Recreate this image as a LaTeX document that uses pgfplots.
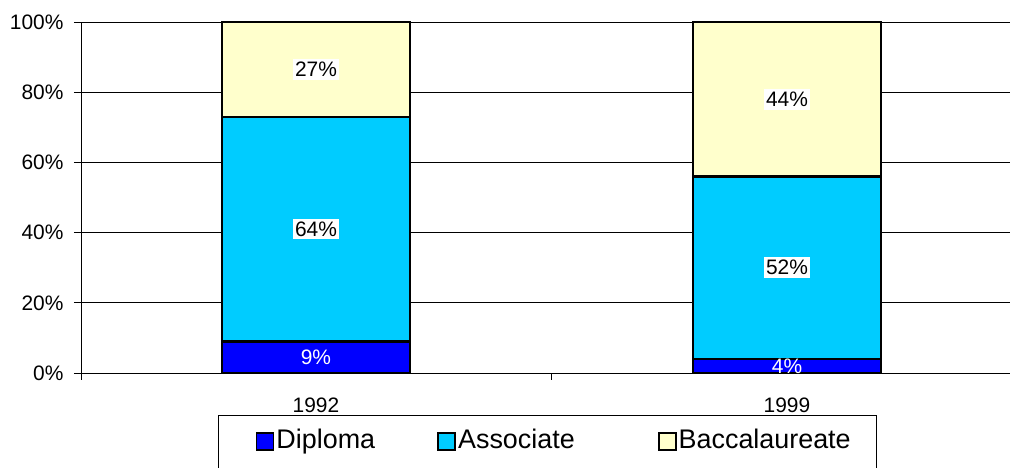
\documentclass[border=0pt]{standalone}
\usepackage{pgfplots}
\pgfplotsset{compat=1.18}
\usepackage{fontspec}
\setmainfont{Liberation Sans}
\definecolor{dip}{HTML}{0000FF}
\definecolor{asc}{HTML}{00CCFF}
\definecolor{bac}{HTML}{FFFFCC}
\pgfplotsset{
  sqlegend/.style={legend image code/.code={\path (0bp,0bp); \draw[##1, draw=black, line width=1.8bp] (13bp,-8.5bp) rectangle (30bp,8.5bp);}},
}
\begin{document}
\begin{tikzpicture}
\useasboundingbox (0bp,0bp) rectangle (1010bp,468bp);
\begin{axis}[
  at={(81bp,95bp)}, anchor=south west,
  scale only axis, width=929bp, height=351bp,
  clip=false,
  ybar stacked, bar width=188bp,
  xmin=-0.4989, xmax=1.4735, ymin=0, ymax=100,
  axis x line*=bottom, axis y line*=left,
  axis line style={black, line width=0.9bp},
  ymajorgrids, major grid style={black, line width=0.9bp},
  ytick={0,20,...,100},
  /pgf/number format/assume math mode=true,
  yticklabel={\pgfmathprintnumber{\tick}\%},
  yticklabel style={font=\fontsize{21}{24}\selectfont, anchor=east, xshift=-7bp},
  tick align=outside, major tick length=7bp,
  ytick style={black, line width=0.9bp},
  xtick={0,1}, xticklabels={1992,1999},
  xtick style={draw=none},
  xticklabel style={font=\fontsize{21}{24}\selectfont, anchor=base, yshift=-32bp},
  visualization depends on=rawy \as \rawy,
  nodes near coords={\pgfmathprintnumber{\rawy}\%},
  every node near coord/.style={anchor=center, font=\fontsize{21}{24}\selectfont},
  legend columns=3,
  legend style={at={(0.1475,-0.1197)}, anchor=north west, draw=black, line width=0.9bp,
    inner xsep=24bp, inner ysep=11bp, font=\fontsize{27}{30}\selectfont,
    nodes={text height=19bp, text depth=5.5bp, inner ysep=3bp},
    /tikz/column 2/.append style={column sep=47bp},
    /tikz/column 4/.append style={column sep=68bp},
    /tikz/every odd column/.append style={column sep=0bp}},
  legend cell align=left,
]
\addplot[fill=dip, draw=black, line width=2.2bp, sqlegend,
  every node near coord/.append style={text=white}] coordinates {(0,9) (1,4)};
\addlegendentry{Diploma}
\addplot[fill=asc, draw=black, line width=2.2bp, sqlegend,
  every node near coord/.append style={fill=white, text=black, inner xsep=2bp, inner ysep=3bp}] coordinates {(0,64) (1,52)};
\addlegendentry{Associate}
\addplot[fill=bac, draw=black, line width=2.2bp, sqlegend,
  every node near coord/.append style={fill=white, text=black, inner xsep=2bp, inner ysep=3bp}] coordinates {(0,27) (1,44)};
\addlegendentry{Baccalaureate}
\draw[black, line width=0.9bp] (axis cs:0.5,0) -- ([yshift=-7bp]axis cs:0.5,0);
\draw[black, line width=0.9bp] (axis cs:-0.4989,0) -- ([yshift=-7bp]axis cs:-0.4989,0);
\end{axis}
\end{tikzpicture}
\end{document}
